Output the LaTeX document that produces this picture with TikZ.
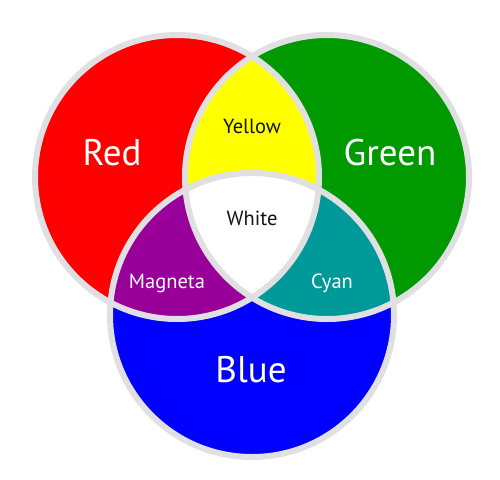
\documentclass[tikz,border=0pt]{standalone}
\usepackage{fontspec}
\setmainfont{PT Sans}
\usepackage{xcolor}
\usepackage{tikz}
\definecolor{RGBRed}{RGB}{255, 0, 0}
\definecolor{RGBGreen}{RGB}{0, 153, 0}
\definecolor{RGBBlue}{RGB}{0, 0, 255}
\definecolor{RGBYellow}{RGB}{255, 255, 0}
\definecolor{RGBMagenta}{RGB}{153, 0, 153}
\definecolor{RGBCyan}{RGB}{0, 153, 153}
\definecolor{RGBRim}{RGB}{224, 224, 226}
\definecolor{RGBTextDark}{RGB}{20, 20, 20}

\begin{document}
\begin{tikzpicture}[x=1pt,y=-1pt,
    rim/.style={draw=RGBRim, line width=6pt},
    biglabel/.style={text=white, font=\fontsize{37}{42}\selectfont},
    midlabel/.style={text=RGBTextDark, font=\fontsize{20.5}{24}\selectfont},
    smalllabel/.style={text=white, font=\fontsize{20.5}{24}\selectfont}]
  \path[use as bounding box] (0,0) rectangle (500,479);
  % circle centres
  \coordinate (cR) at (177,177);
  \coordinate (cG) at (327,177);
  \coordinate (cB) at (252,315);
  \def\rad{142}
  % base fills
  \fill[RGBRed] (cR) circle (\rad);
  \fill[RGBGreen] (cG) circle (\rad);
  \fill[RGBBlue] (cB) circle (\rad);
  % overlaps
  \begin{scope}
    \clip (cR) circle (\rad);
    \fill[RGBYellow] (cG) circle (\rad);
    \fill[RGBMagenta] (cB) circle (\rad);
  \end{scope}
  \begin{scope}
    \clip (cG) circle (\rad);
    \fill[RGBCyan] (cB) circle (\rad);
  \end{scope}
  \begin{scope}
    \clip (cR) circle (\rad);
    \clip (cG) circle (\rad);
    \fill[white] (cB) circle (\rad);
  \end{scope}
  % rims
  \draw[rim] (cR) circle (\rad);
  \draw[rim] (cG) circle (\rad);
  \draw[rim] (cB) circle (\rad);
  % labels
  \node[biglabel] (red) at (112,153) {Red};
  \node[biglabel] (green) at (390,153) {Green};
  \node[biglabel] (blue) at (251,370) {Blue};
  \node[midlabel] (yellow) at (252,126) {Yellow};
  \node[midlabel] (white) at (252,218) {White};
  \node[smalllabel] (magneta) at (167,283) {Magneta};
  \node[smalllabel] (cyan) at (332,283) {Cyan};
\end{tikzpicture}
\end{document}
